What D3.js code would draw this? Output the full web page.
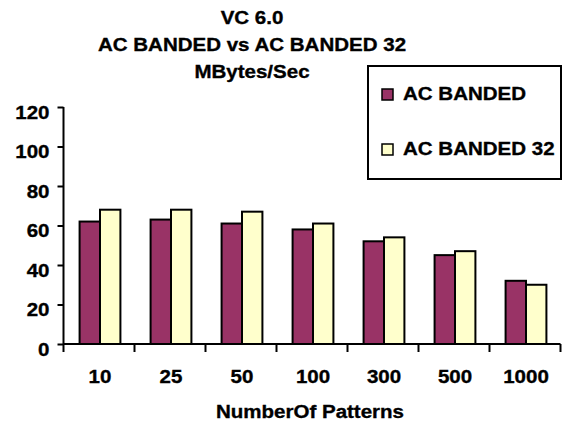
<!DOCTYPE html>
<html>
<head>
<meta charset="utf-8">
<script src="https://cdn.jsdelivr.net/npm/d3@7"></script>
<style>
  html, body { margin: 0; padding: 0; background: #fff; }
  svg { display: block; }
  text { font-family: "Liberation Sans", Arial, sans-serif; font-weight: bold; fill: #000;
         stroke: #000; stroke-width: 0.35px; }
</style>
</head>
<body>
<svg id="chart" width="565" height="427"></svg>
<script>
// Throughput per pattern count, MBytes/Sec
const categories = ["10", "25", "50", "100", "300", "500", "1000"];
const seriesNames = ["AC BANDED", "AC BANDED 32"];
const acBanded = [62, 63, 61, 58, 52, 45, 32];
const acBanded32 = [68, 68, 67, 61, 54, 47, 30];
const yTicks = [0, 20, 40, 60, 80, 100, 120];
const titleLines = ["VC 6.0", "AC BANDED vs AC BANDED 32", "MBytes/Sec"];
const xTitle = "NumberOf Patterns";

const seriesColors = ["#993366", "#FFFFCC"];
const seriesValues = [acBanded, acBanded32];

const svg = d3.select("#chart");
const FS = 19;         // font size
const SX = 1.08;       // horizontal stretch of the lettering

function label(g, x, y, txt, anchor) {
  return g.append("text")
    .attr("transform", `translate(${x},${y}) scale(${SX},1)`)
    .attr("text-anchor", anchor || "middle")
    .attr("font-size", FS)
    .text(txt);
}

const plot = { left: 63.5, right: 560.5, top: 107, bottom: 344 };

const x = d3.scaleBand().domain(categories).range([plot.left, plot.right]).padding(0);
const bw = x.bandwidth();
const groupW = bw * 0.575;
const x1 = d3.scaleBand().domain(seriesNames)
  .range([(bw - groupW) / 2 + 1, (bw + groupW) / 2 + 1]).padding(0);
const y = d3.scaleLinear().domain([0, 120]).range([plot.bottom, plot.top]);

// Titles
titleLines.forEach((t, i) => label(svg, 252, 24 + i * 27, t));

// Bars
const groups = svg.append("g").selectAll("g")
  .data(categories)
  .join("g")
  .attr("transform", d => `translate(${x(d)},0)`);

groups.selectAll("rect")
  .data((d, i) => seriesNames.map((s, k) => ({ s, k, v: seriesValues[k][i] })))
  .join("rect")
  .attr("x", d => x1(d.s))
  .attr("width", x1.bandwidth())
  .attr("y", d => y(d.v))
  .attr("height", d => y(0) - y(d.v))
  .attr("fill", d => seriesColors[d.k])
  .attr("stroke", "#000")
  .attr("stroke-width", 2);

// Y axis
const yAxis = svg.append("g")
  .attr("transform", `translate(${plot.left},0)`)
  .call(d3.axisLeft(y).tickValues(yTicks).tickSize(6).tickPadding(0).tickFormat(d3.format("d")));
yAxis.select(".domain").attr("stroke", "#000").attr("stroke-width", 2)
  .attr("d", `M0,${plot.top}V${plot.bottom}`);
yAxis.selectAll(".tick line").attr("stroke", "#000").attr("stroke-width", 2);
yAxis.selectAll(".tick text").remove();
yAxis.selectAll(".tick").each(function(d) {
  label(d3.select(this), -14, 11, String(d), "end");
});

// X axis: ticks sit on band boundaries
const xAxis = svg.append("g").attr("transform", `translate(0,${plot.bottom})`);
xAxis.append("path")
  .attr("d", `M${plot.left},0H${plot.right}`)
  .attr("stroke", "#000").attr("stroke-width", 2).attr("fill", "none");
const boundaries = categories.map(c => x(c)).concat([x(categories[categories.length - 1]) + bw]);
xAxis.selectAll("line.tk")
  .data(boundaries)
  .join("line")
  .attr("class", "tk")
  .attr("x1", d => d).attr("x2", d => d)
  .attr("y1", 0).attr("y2", 8)
  .attr("stroke", "#000").attr("stroke-width", 2);
categories.forEach(c => label(xAxis, x(c) + bw / 2 + 1, 39, c));

// Axis title
label(svg, 310, 418, xTitle);

// Legend
const lg = svg.append("g");
lg.append("rect")
  .attr("x", 368).attr("y", 66).attr("width", 193).attr("height", 113)
  .attr("fill", "#fff").attr("stroke", "#000").attr("stroke-width", 2);
seriesNames.forEach((s, k) => {
  const yy = 100 + k * 55;
  lg.append("rect")
    .attr("x", 382).attr("y", yy - 11).attr("width", 11).attr("height", 11)
    .attr("fill", seriesColors[k]).attr("stroke", "#000").attr("stroke-width", 1.5);
  label(lg, 403, yy, s, "start");
});
</script>
</body>
</html>
